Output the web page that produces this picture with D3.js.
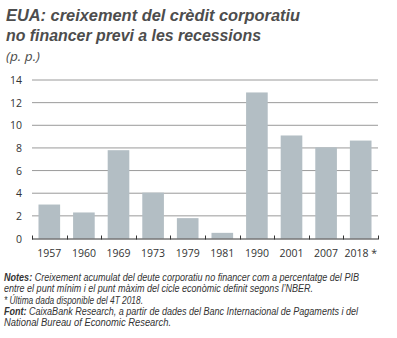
<!DOCTYPE html>
<html><head><meta charset="utf-8">
<script src="https://cdn.jsdelivr.net/npm/d3@7"></script>
<style>body{margin:0;background:#fff}svg{display:block}</style>
</head><body>
<svg id="c" width="397" height="338"></svg>
<script>
const categories = ["1957","1960","1969","1973","1979","1981","1990","2001","2007","2018 *"];
const values = [3.0, 2.3, 7.8, 4.05, 1.8, 0.5, 12.9, 9.1, 8.05, 8.65];
const yTicks = [0,2,4,6,8,10,12,14];
const titleLines = ["EUA: creixement del crèdit corporatiu","no financer previ a les recessions"];
const unitLabel = "(p. p.)";
const notes = [
  [["Notes:",true],[" Creixement acumulat del deute corporatiu no financer com a percentatge del PIB",false]],
  [["entre el punt mínim i el punt màxim del cicle econòmic definit segons l’NBER.",false]],
  [["* Última dada disponible del 4T 2018.",false]],
  [["Font:",true],[" CaixaBank Research, a partir de dades del Banc Internacional de Pagaments i del",false]],
  [["National Bureau of Economic Research.",false]]
];

const svg = d3.select("#c");
const font = "'Open Sans', sans-serif";
const tightFont = "'Liberation Sans', Arial, sans-serif";
const x0 = 32, x1 = 378, yTop = 80, yBot = 238.5;

const x = d3.scaleBand().domain(categories).range([x0, x1]).paddingInner(0.375).paddingOuter(0.1875);
const y = d3.scaleLinear().domain([0,14]).range([yBot, yTop]);

// title
svg.append("g").selectAll("text").data(titleLines).join("text")
  .attr("x", 6).attr("y", (d,i)=>21 + i*19.5)
  .attr("font-family", tightFont).attr("font-style","italic").attr("font-weight",700)
  .attr("font-size", 17.3).attr("fill","#4d4d4d")
  .attr("textLength",(d,i)=> i===0 ? 294 : 255).attr("lengthAdjust","spacingAndGlyphs")
  .text(d=>d);
svg.append("text").attr("x",6).attr("y",61)
  .attr("font-family",font).attr("font-style","italic").attr("font-size",13).attr("fill","#4d4d4d")
  .attr("textLength",34).attr("lengthAdjust","spacingAndGlyphs")
  .text(unitLabel);

// gridlines
svg.append("g").selectAll("line").data(yTicks.filter(d=>d>0)).join("line")
  .attr("x1", x0).attr("x2", x1).attr("y1", d=>y(d)).attr("y2", d=>y(d))
  .attr("stroke","#9a9a9a").attr("stroke-width",1);

// y labels
svg.append("g").selectAll("text").data(yTicks).join("text")
  .attr("x", 22).attr("y", d=>y(d)+4).attr("text-anchor","end")
  .attr("font-family",font).attr("font-size",10.5).attr("fill","#333")
  .text(d=>d);

// bars
svg.append("g").selectAll("rect").data(values).join("rect")
  .attr("x",(d,i)=>x(categories[i])).attr("width",x.bandwidth())
  .attr("y",d=>y(d)).attr("height",d=>y(0)-y(d))
  .attr("fill","#b3bec4");

// x axis
const step = x.step();
const tickXs = categories.map((c,i)=> i===0 ? x0 : x(c) - x.paddingInner()*step/2).concat([x1]);
const ax = svg.append("g").attr("transform",`translate(0,${yBot})`);
ax.append("line").attr("x1",x0).attr("x2",x1).attr("y1",0.5).attr("y2",0.5).attr("stroke","#333").attr("stroke-width",1);
ax.selectAll("line.t").data(tickXs).join("line").attr("class","t")
  .attr("x1",d=>Math.round(d)+0.5).attr("x2",d=>Math.round(d)+0.5).attr("y1",-3).attr("y2",1)
  .attr("stroke","#333");
svg.append("g").selectAll("text").data(categories).join("text")
  .attr("x",d=>x(d)+x.bandwidth()/2).attr("y",257).attr("text-anchor","middle")
  .attr("font-family",font).attr("font-size",10.5).attr("fill","#333")
  .text(d=>d);

// notes
const lens = [355, 309, 139, 354, 167];
const ng = svg.append("g");
notes.forEach((parts,i)=>{
  const t = ng.append("text").attr("x",4).attr("y",281 + i*11.3)
    .attr("font-family",tightFont).attr("font-style","italic").attr("font-size",10).attr("fill","#333")
    .attr("textLength",lens[i]).attr("lengthAdjust","spacingAndGlyphs");
  parts.forEach(([s,b])=> t.append("tspan").attr("font-weight", b?700:400).text(s));
});
</script>
</body></html>
